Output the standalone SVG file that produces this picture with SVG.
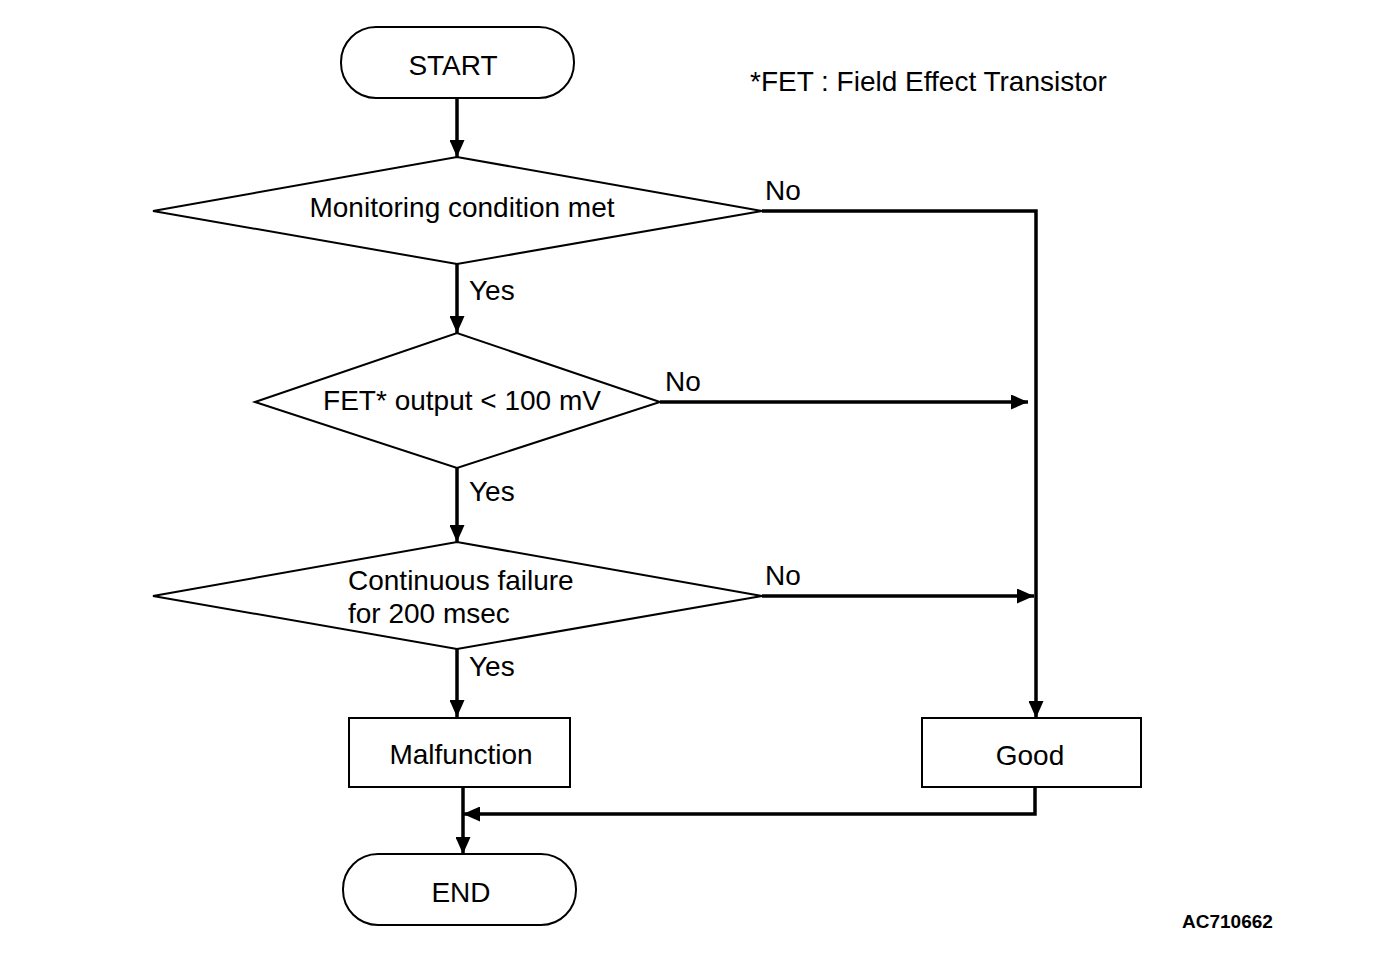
<svg xmlns="http://www.w3.org/2000/svg" width="1376" height="970" viewBox="0 0 1376 970">
<style>
text{font-family:"Liberation Sans",Arial,sans-serif;font-size:28px;fill:#000}
.shape{fill:#fff;stroke:#000;stroke-width:2}
.c{text-anchor:middle}
.conn{fill:none;stroke:#000;stroke-width:3.5}
.code{font-weight:bold;font-size:19px}
</style>
<defs>
<marker id="ah" markerUnits="userSpaceOnUse" markerWidth="17" markerHeight="15" refX="17" refY="7.5" orient="auto">
<path d="M0,0 L17,7.5 L0,15 Z" fill="#000"/>
</marker>
</defs>
<rect width="1376" height="970" fill="#fff"/>
<g id="connectors">
<path class="conn" d="M457,98 V157" marker-end="url(#ah)"/>
<path class="conn" d="M457,264 V333" marker-end="url(#ah)"/>
<path class="conn" d="M457,468 V542" marker-end="url(#ah)"/>
<path class="conn" d="M457,649 V717" marker-end="url(#ah)"/>
<path class="conn" d="M762,211 H1036 V718" marker-end="url(#ah)"/>
<path class="conn" d="M660,402 H1028" marker-end="url(#ah)"/>
<path class="conn" d="M762,596 H1034" marker-end="url(#ah)"/>
<path class="conn" d="M463,787 V854" marker-end="url(#ah)"/>
<path class="conn" d="M1035,787 V814 H463" marker-end="url(#ah)"/>
</g>
<g id="labels">
<text x="765" y="200">No</text>
<text x="665" y="391">No</text>
<text x="765" y="585">No</text>
<text x="469" y="300">Yes</text>
<text x="469" y="501">Yes</text>
<text x="469" y="676">Yes</text>
</g>
<g id="start">
<rect class="shape" x="341" y="27" width="233" height="71" rx="35" ry="35"/>
<text class="c" x="453" y="75">START</text>
</g>
<g id="cond1">
<polygon class="shape" points="153,211 457,157 762,211 457,264"/>
<text class="c" x="462" y="217">Monitoring condition met</text>
</g>
<g id="cond2">
<polygon class="shape" points="255,402 457,333 660,402 457,468"/>
<text class="c" x="462" y="410">FET* output &lt; 100 mV</text>
</g>
<g id="cond3">
<polygon class="shape" points="153,596 457,542 762,596 457,649"/>
<text x="348" y="590">Continuous failure</text>
<text x="348" y="623">for 200 msec</text>
</g>
<g id="malfunction">
<rect class="shape" x="349" y="718" width="221" height="69"/>
<text class="c" x="461" y="764">Malfunction</text>
</g>
<g id="good">
<rect class="shape" x="922" y="718" width="219" height="69"/>
<text class="c" x="1030" y="765">Good</text>
</g>
<g id="end">
<rect class="shape" x="343" y="854" width="233" height="71" rx="35" ry="35"/>
<text class="c" x="461" y="902">END</text>
</g>
<g id="notes">
<text x="750" y="91">*FET : Field Effect Transistor</text>
<text class="code" x="1182" y="928">AC710662</text>
</g>
</svg>
